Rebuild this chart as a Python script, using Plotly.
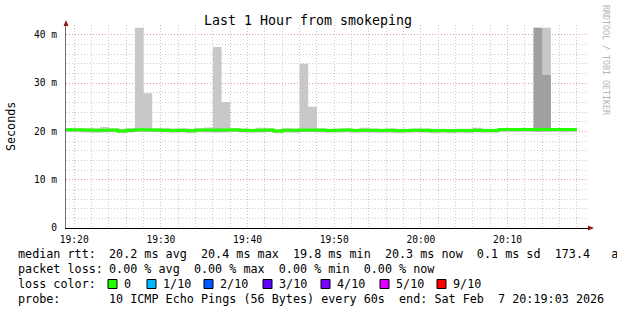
import plotly.graph_objects as go
import pandas as pd

# ---------------- data (ms, one value per 1-minute step, 19:19 .. 20:17) ----------------
step_starts = pd.date_range("2026-02-07 19:19", periods=59, freq="min")

median_ms = [20.35, 20.35, 20.30, 20.25, 20.25, 20.30, 20.10, 20.25, 20.35, 20.35,
             20.30, 20.25, 20.20, 20.25, 20.15, 20.30, 20.30, 20.30, 20.30, 20.35,
             20.25, 20.20, 20.25, 20.30, 20.10, 20.25, 20.25, 20.30, 20.30, 20.30,
             20.20, 20.25, 20.30, 20.20, 20.25, 20.25, 20.20, 20.25, 20.15, 20.20,
             20.25, 20.25, 20.15, 20.20, 20.15, 20.20, 20.20, 20.25, 20.20, 20.20,
             20.40, 20.40, 20.40, 20.40, 20.40, 20.40, 20.40, 20.40, 20.40]

inner_hi_ms = [20.55, 20.50, 20.50, 20.45, 20.50, 20.50, 20.35, 20.45, 20.55, 20.50,
               20.50, 20.45, 20.45, 20.40, 20.40, 20.50, 20.50, 20.55, 20.50, 20.50,
               20.45, 20.40, 20.50, 20.50, 20.30, 20.45, 20.45, 20.50, 20.50, 20.45,
               20.40, 20.45, 20.50, 20.40, 20.45, 20.45, 20.40, 20.45, 20.40, 20.40,
               20.45, 20.45, 20.40, 20.40, 20.35, 20.40, 20.40, 20.45, 20.40, 20.40,
               20.55, 20.55, 20.55, 20.55, 41.45, 31.70, 20.55, 20.55, 20.55]

inner_lo_ms = [20.05, 20.05, 20.00, 19.95, 19.95, 20.00, 19.80, 19.95, 20.05, 20.05,
               20.00, 19.95, 19.90, 19.95, 19.85, 20.00, 20.00, 19.95, 20.00, 20.05,
               19.95, 19.90, 19.95, 20.00, 19.80, 19.95, 19.95, 20.00, 20.00, 20.00,
               19.90, 19.95, 20.00, 19.90, 19.95, 19.95, 19.90, 19.95, 19.85, 19.90,
               19.95, 19.95, 19.85, 19.90, 19.85, 19.90, 19.90, 19.95, 19.90, 19.90,
               20.10, 20.10, 20.10, 20.10, 20.00, 20.05, 20.10, 20.10, 20.10]

outer_hi_ms = [20.70, 20.65, 20.65, 20.65, 20.90, 20.65, 20.55, 20.65, 41.45, 27.90,
               20.65, 20.65, 20.60, 20.60, 20.55, 20.65, 20.80, 37.50, 26.10, 20.65,
               20.60, 20.55, 20.75, 20.65, 20.50, 20.65, 20.60, 34.00, 25.10, 20.60,
               20.55, 20.60, 20.65, 20.55, 20.75, 20.60, 20.55, 20.60, 20.55, 20.55,
               20.60, 20.60, 20.55, 20.55, 20.50, 20.55, 20.55, 20.75, 20.55, 20.55,
               20.65, 20.65, 20.65, 20.65, 41.45, 41.45, 20.65, 20.65, 20.65]

outer_lo_ms = [19.85, 19.80, 19.75, 19.70, 19.75, 19.80, 19.60, 19.75, 19.85, 19.85,
               19.80, 19.75, 19.70, 19.75, 19.65, 19.80, 19.75, 19.70, 19.75, 19.85,
               19.75, 19.70, 19.75, 19.80, 19.60, 19.75, 19.70, 19.80, 19.80, 19.75,
               19.70, 19.75, 19.75, 19.70, 19.75, 19.70, 19.70, 19.70, 19.65, 19.70,
               19.75, 19.70, 19.60, 19.70, 19.65, 19.70, 19.65, 19.75, 19.70, 19.70,
               19.85, 19.85, 19.85, 19.85, 19.85, 19.85, 19.85, 19.80, 19.85]

y_tick_vals = [0, 0.01, 0.02, 0.03, 0.04]
y_tick_text = ["0", "10 m", "20 m", "30 m", "40 m"]

title_text = "Last 1 Hour from smokeping"
legend_labels = ["median rtt:", "packet loss:", "loss color:", "probe:"]
legend_values = [
    "20.2 ms avg  20.4 ms max  19.8 ms min  20.3 ms now  0.1 ms sd  173.4   a",
    "0.00 % avg  0.00 % max  0.00 % min  0.00 % now",
    "",
    "10 ICMP Echo Pings (56 Bytes) every 60s  end: Sat Feb  7 20:19:03 2026",
]
loss_labels = ["0", "1/10", "2/10", "3/10", "4/10", "5/10", "9/10"]
loss_colors = ["#26ff00", "#00b8ff", "#0059ff", "#5e00ff", "#7e00ff", "#dd00ff", "#ff0000"]
loss_box_x = [108, 147, 204, 263, 321, 380, 437]

# ---------------- layout geometry (pixels) ----------------
W, H = 617, 310
L, RGT, T, BOT = 66, 588, 25, 228
FONT = "DejaVu Sans Mono"
LEG_SIZE = 11.76


def px(x):
    return (x - L) / (RGT - L)


def py(y):
    return (BOT - y) / (BOT - T)


x_edges = list(step_starts) + [step_starts[-1] + pd.Timedelta(minutes=1)]


def stepped(vals):
    v = [a / 1000.0 for a in vals]
    return v + [v[-1]]


fig = go.Figure()
fig.add_trace(go.Scatter(x=x_edges, y=stepped(outer_lo_ms), mode="lines",
                         line=dict(width=0, shape="hv"), hoverinfo="skip", showlegend=False))
fig.add_trace(go.Scatter(x=x_edges, y=stepped(outer_hi_ms), mode="lines",
                         line=dict(width=0, shape="hv"), fill="tonexty", fillcolor="#c8c8c8",
                         hoverinfo="skip", showlegend=False))
fig.add_trace(go.Scatter(x=x_edges, y=stepped(inner_lo_ms), mode="lines",
                         line=dict(width=0, shape="hv"), hoverinfo="skip", showlegend=False))
fig.add_trace(go.Scatter(x=x_edges, y=stepped(inner_hi_ms), mode="lines",
                         line=dict(width=0, shape="hv"), fill="tonexty", fillcolor="#a0a0a0",
                         hoverinfo="skip", showlegend=False))
fig.add_trace(go.Scatter(x=x_edges, y=stepped(median_ms), mode="lines",
                         line=dict(width=3, shape="hv", color="#26ff00"),
                         hoverinfo="skip", showlegend=False))

major_grid = "rgba(240,120,120,0.6)"
minor_grid = "rgba(160,160,160,0.55)"
grid_dash = "1px,2px"

fig.update_layout(
    width=W, height=H,
    margin=dict(l=L, r=W - RGT, t=T, b=H - BOT, pad=0),
    paper_bgcolor="white", plot_bgcolor="white",
    font=dict(family=FONT, color="#000000"),
    title=dict(text=title_text, x=308 / W, xref="container", xanchor="center",
               y=1 - 20 / H, yref="container", yanchor="middle",
               font=dict(family=FONT, size=13.3, color="#000000")),
    xaxis=dict(
        type="date",
        range=["2026-02-07 19:19:03", "2026-02-07 20:19:17"],
        tick0="2026-02-07 19:20:00", dtick=600000, tickformat="%H:%M",
        showgrid=True, gridcolor=major_grid, griddash=grid_dash, gridwidth=1,
        minor=dict(dtick=120000, showgrid=True, gridcolor=minor_grid, griddash=grid_dash,
                   gridwidth=1, ticks=""),
        ticks="", showline=True, linecolor="#000000", linewidth=1,
        zeroline=False, tickfont=dict(family=FONT, size=9.6, color="#000000"),
        ticklabelstandoff=2,
    ),
    yaxis=dict(
        range=[0, (BOT - T) / 4.83 / 1000.0],
        tickvals=y_tick_vals, ticktext=y_tick_text,
        showgrid=True, gridcolor=major_grid, griddash=grid_dash, gridwidth=1,
        minor=dict(dtick=0.002, showgrid=True, gridcolor=minor_grid, griddash=grid_dash,
                   gridwidth=1, ticks=""),
        ticks="", showline=True, linecolor="#707070", linewidth=1,
        zeroline=False, tickfont=dict(family=FONT, size=9.6, color="#000000"),
        ticklabelstandoff=6,
    ),
)

shapes = []
# axis arrows
shapes.append(dict(type="path", xref="paper", yref="paper",
                   path=f"M {px(63.5)},{py(26)} L {px(68.5)},{py(26)} L {px(66)},{py(20)} Z",
                   fillcolor="#8b1a1a", line=dict(width=0)))
shapes.append(dict(type="path", xref="paper", yref="paper",
                   path=f"M {px(588)},{py(225.5)} L {px(588)},{py(230.5)} L {px(594)},{py(228)} Z",
                   fillcolor="#8b1a1a", line=dict(width=0)))
# loss colour boxes
row_y = [254, 269, 284, 299]
for bx, col in zip(loss_box_x, loss_colors):
    shapes.append(dict(type="rect", xref="paper", yref="paper",
                       x0=px(bx), x1=px(bx + 9), y0=py(row_y[2] - 4.5), y1=py(row_y[2] + 4.5),
                       fillcolor=col, line=dict(color="#000000", width=1)))
fig.update_layout(shapes=shapes)

ann = []
ann.append(dict(text="Seconds", x=px(11), y=py(127), xref="paper", yref="paper",
                textangle=-90, showarrow=False, xanchor="center", yanchor="middle",
                font=dict(family=FONT, size=11.7, color="#000000")))
ann.append(dict(text="RRDTOOL / TOBI OETIKER", x=px(606), y=py(60), xref="paper", yref="paper",
                textangle=90, showarrow=False, xanchor="center", yanchor="middle",
                font=dict(family=FONT, size=8.3, color="#b4b4b4")))
for r, (lab, val) in enumerate(zip(legend_labels, legend_values)):
    ann.append(dict(text=lab.replace(" ", "&nbsp;"), x=px(16), y=py(row_y[r]),
                    xref="paper", yref="paper", showarrow=False,
                    xanchor="left", yanchor="middle",
                    font=dict(family=FONT, size=LEG_SIZE, color="#000000")))
    if val:
        ann.append(dict(text=val.replace(" ", "&nbsp;"), x=px(107), y=py(row_y[r]),
                        xref="paper", yref="paper", showarrow=False,
                        xanchor="left", yanchor="middle",
                        font=dict(family=FONT, size=LEG_SIZE, color="#000000")))
for bx, lab in zip(loss_box_x, loss_labels):
    ann.append(dict(text=lab, x=px(bx + 14), y=py(row_y[2]), xref="paper", yref="paper",
                    showarrow=False, xanchor="left", yanchor="middle",
                    font=dict(family=FONT, size=LEG_SIZE, color="#000000")))
fig.update_layout(annotations=ann)

fig.write_html("out.html")
